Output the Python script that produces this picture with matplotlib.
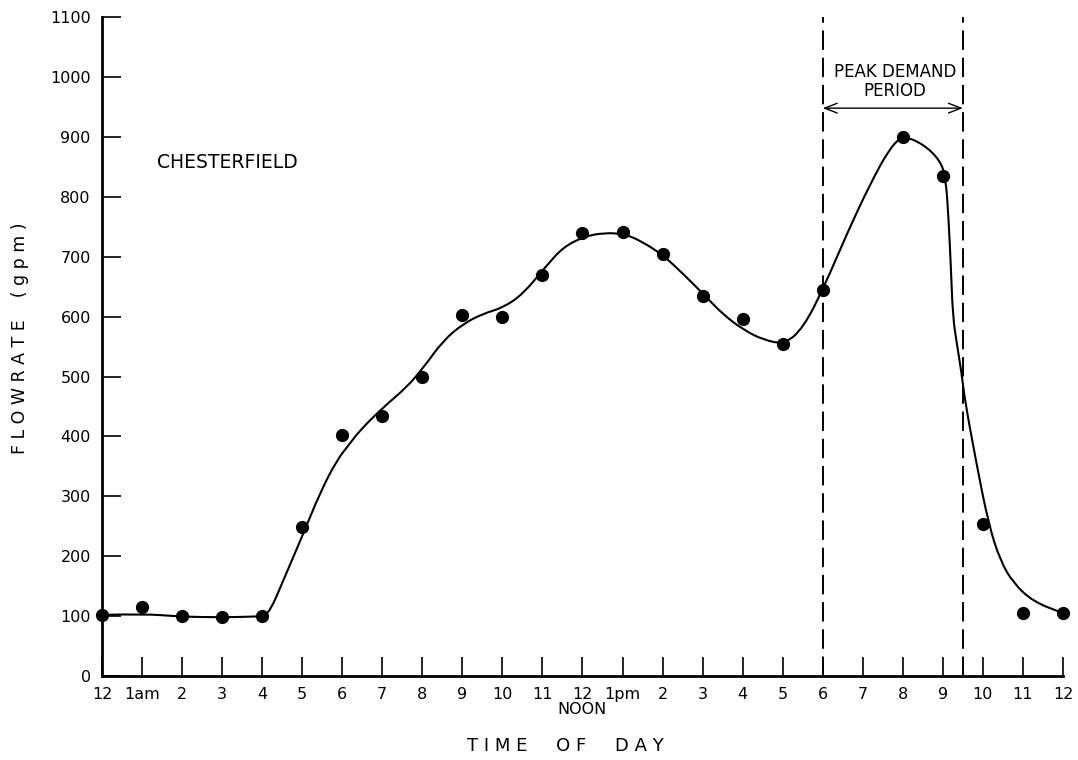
import matplotlib
matplotlib.use("Agg")
import matplotlib.pyplot as plt
from matplotlib.path import Path
from matplotlib.patches import PathPatch

# measured flowrate (gpm) at each hour of the day
hours = [0, 1, 2, 3, 4, 5, 6, 7, 8, 9, 10, 11, 12, 13, 14, 15, 16, 17, 18,
         20, 21, 22, 23, 24]
flow = [102, 115, 100, 99, 100, 249, 402, 434, 499, 602, 600, 670, 739, 742,
        704, 634, 596, 554, 644, 900, 834, 253, 106, 105]

# hand drawn fitted curve
curve_h = [0, 1, 2, 3, 3.7, 4, 4.2, 4.53, 5.03, 5.44, 5.86, 6.19, 6.44, 7.03,
           7.61, 8.03, 8.52, 9.02, 9.52, 10.02, 10.52, 11.1, 11.52, 12.02,
           12.52, 13.06, 13.52, 14.02, 14.52, 15.07, 15.52, 16.02, 16.52,
           17.06, 17.52, 18.03, 18.6, 19.18, 19.68, 20.01, 20.51, 20.93,
           21.07, 21.14, 21.2, 21.25, 21.35, 21.47, 21.55, 21.84, 22.14,
           22.43, 22.76, 23.26, 24]
curve_q = [102, 104, 99, 98, 99, 100, 108, 160, 238, 305, 360, 388, 410, 449,
           482, 515, 560, 588, 605, 615, 638, 685, 716, 733, 740, 738, 724,
           702, 671, 634, 603, 578, 561, 554, 582, 649, 738, 821, 882, 902,
           888, 861, 832, 766, 682, 599, 554, 504, 460, 354, 254, 193, 155,
           124, 105]

tick_labels = ["12", "1am", "2", "3", "4", "5", "6", "7", "8", "9", "10",
               "11", "12\nNOON", "1pm", "2", "3", "4", "5", "6", "7", "8",
               "9", "10", "11", "12"]
peak_start, peak_end = 18, 21.5

fig = plt.figure(figsize=(10.78, 7.60), dpi=100)
ax = fig.add_axes([0.0946, 0.1105, 0.8915, 0.867])

# smooth the curve: quadratic segments through the midpoints of the knots
pts = list(zip(curve_h, curve_q))
verts = [pts[0]]
codes = [Path.MOVETO]
for i in range(1, len(pts) - 1):
    mid = ((pts[i][0] + pts[i + 1][0]) / 2, (pts[i][1] + pts[i + 1][1]) / 2)
    verts += [pts[i], mid]
    codes += [Path.CURVE3, Path.CURVE3]
verts.append(pts[-1])
codes.append(Path.LINETO)
ax.add_patch(PathPatch(Path(verts, codes), fill=False, lw=1.5, ec="black"))

ax.plot(hours, flow, "o", color="black", ms=8.5, clip_on=False, zorder=3)

for x in (peak_start, peak_end):
    ax.axvline(x, color="black", lw=1.4, ls=(0, (10, 4)))
ax.annotate("", xy=(peak_start, 948), xytext=(peak_end, 948),
            arrowprops=dict(arrowstyle="<->,head_length=0.9,head_width=0.35",
                            color="black", lw=1.0, shrinkA=0, shrinkB=0))
ax.text(19.8, 992, "PEAK DEMAND\nPERIOD", ha="center", va="center",
        fontsize=12, linespacing=1.05)
ax.text(1.37, 857, "CHESTERFIELD", ha="left", va="center", fontsize=13.5)

ax.set_xlim(0, 24)
ax.set_ylim(0, 1100)
ax.set_xticks(range(25))
ax.set_xticklabels(tick_labels, fontsize=11.5, linespacing=1.0)
ax.set_yticks(range(0, 1101, 100))
ax.tick_params(direction="in", length=14, width=1.2, pad=8, labelsize=11.5)
for s in ("top", "right"):
    ax.spines[s].set_visible(False)
for s in ("left", "bottom"):
    ax.spines[s].set_linewidth(2)

ax.set_xlabel("T I M E     O F     D A Y", fontsize=13)
ax.xaxis.set_label_coords(0.482, -0.092)
ax.set_ylabel("F L O W R A T E    ( g p m )", fontsize=12.5)
ax.yaxis.set_label_coords(-0.076, 0.512)

fig.savefig("out.png", dpi=100)
